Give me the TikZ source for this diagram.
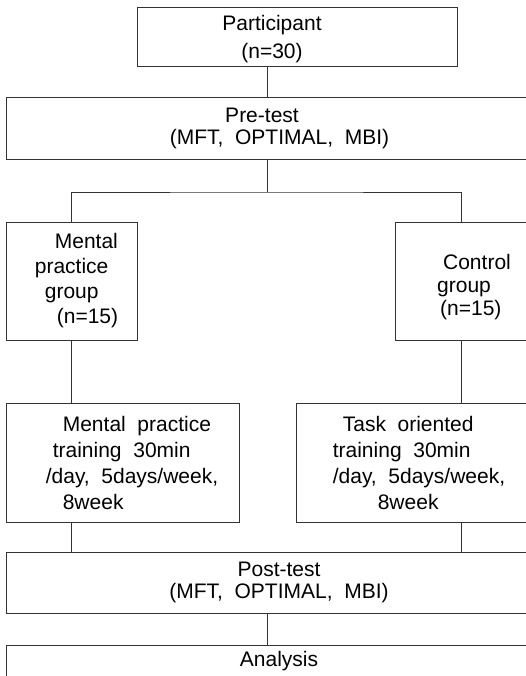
\documentclass[tikz,border=0pt]{standalone}
\usepackage{fontspec}
\setmainfont{Liberation Sans}
\usetikzlibrary{positioning}

\begin{document}
\begin{tikzpicture}[x=1pt, y=-1pt, font=\fontsize{21}{24}\selectfont,
    box/.style={draw=black!80, line width=0.9pt, inner sep=0pt, align=center},
    link/.style={draw=black!80, line width=0.9pt}]
  \useasboundingbox (0,0) rectangle (526,676);
  \clip (0,0) rectangle (526,676);
  % boxes
  \node[box, minimum width=320, minimum height=59] (part) at (297,36.5)
    {\rule{0pt}{21pt}Participant\hspace*{50pt}\\[4pt](n=30)\hspace*{50pt}};
  \node[box, minimum width=522, minimum height=62] (pre) at (267,128)
    {Pre-test\hspace*{10pt}\\[-2pt]\hspace*{25pt}(MFT,\ \ OPTIMAL,\ \ MBI)};
  \node[box, align=left, minimum width=131, minimum height=118] (mgrp) at (71.5,281)
    {\hspace*{30pt}Mental\\[1pt]\hspace*{10pt}practice\\[1pt]\hspace*{20pt}group\\[1pt]\hspace*{32pt}(n=15)};
  \node[box, align=left, minimum width=133, minimum height=118] (cgrp) at (461.5,281)
    {\rule{0pt}{27pt}\hspace*{31pt}Control\\[-1pt]\hspace*{25pt}group\\[-1pt]\hspace*{28pt}(n=15)};
  \node[box, align=left, minimum width=233, minimum height=119] (mtrain) at (122.5,462.5)
    {\hspace*{36pt}Mental\ \ practice\\[2pt]\hspace*{26pt}training\ \ 30min\\[2pt]\hspace*{19pt}/day,\ \ 5days/week,\\[2pt]\hspace*{36pt}8week};
  \node[box, align=left, minimum width=232, minimum height=119] (ctrain) at (412,462.5)
    {\hspace*{24pt}Task\ \ oriented\\[2pt]\hspace*{14pt}training\ \ 30min\\[2pt]\hspace*{14pt}/day,\ \ 5days/week,\\[2pt]\hspace*{59pt}8week};
  \node[box, minimum width=522, minimum height=61] (post) at (267,582.5)
    {\hspace*{24pt}Post-test\\[-2pt]\hspace*{24pt}(MFT,\ \ OPTIMAL,\ \ MBI)};
  \node[box, minimum width=522, minimum height=31.5] (ana) at (267,660.75)
    {\hspace*{24pt}Analysis};
  % connectors
  \coordinate (split) at (267,192);
  \draw[link] (part.south -| pre.north) -- (pre.north);
  \draw[link] (pre.south) -- (split);
  \draw[link] (mgrp.north) |- (split) -| (cgrp.north);
  \draw[link] (mgrp.south) -- (mgrp.south |- mtrain.north);
  \draw[link] (cgrp.south) -- (cgrp.south |- ctrain.north);
  \draw[link] (mtrain.south -| mgrp.south) -- (mgrp.south |- post.north);
  \draw[link] (ctrain.south -| cgrp.south) -- (cgrp.south |- post.north);
  \draw[link] (post.south) -- (ana.north);
\end{tikzpicture}
\end{document}
